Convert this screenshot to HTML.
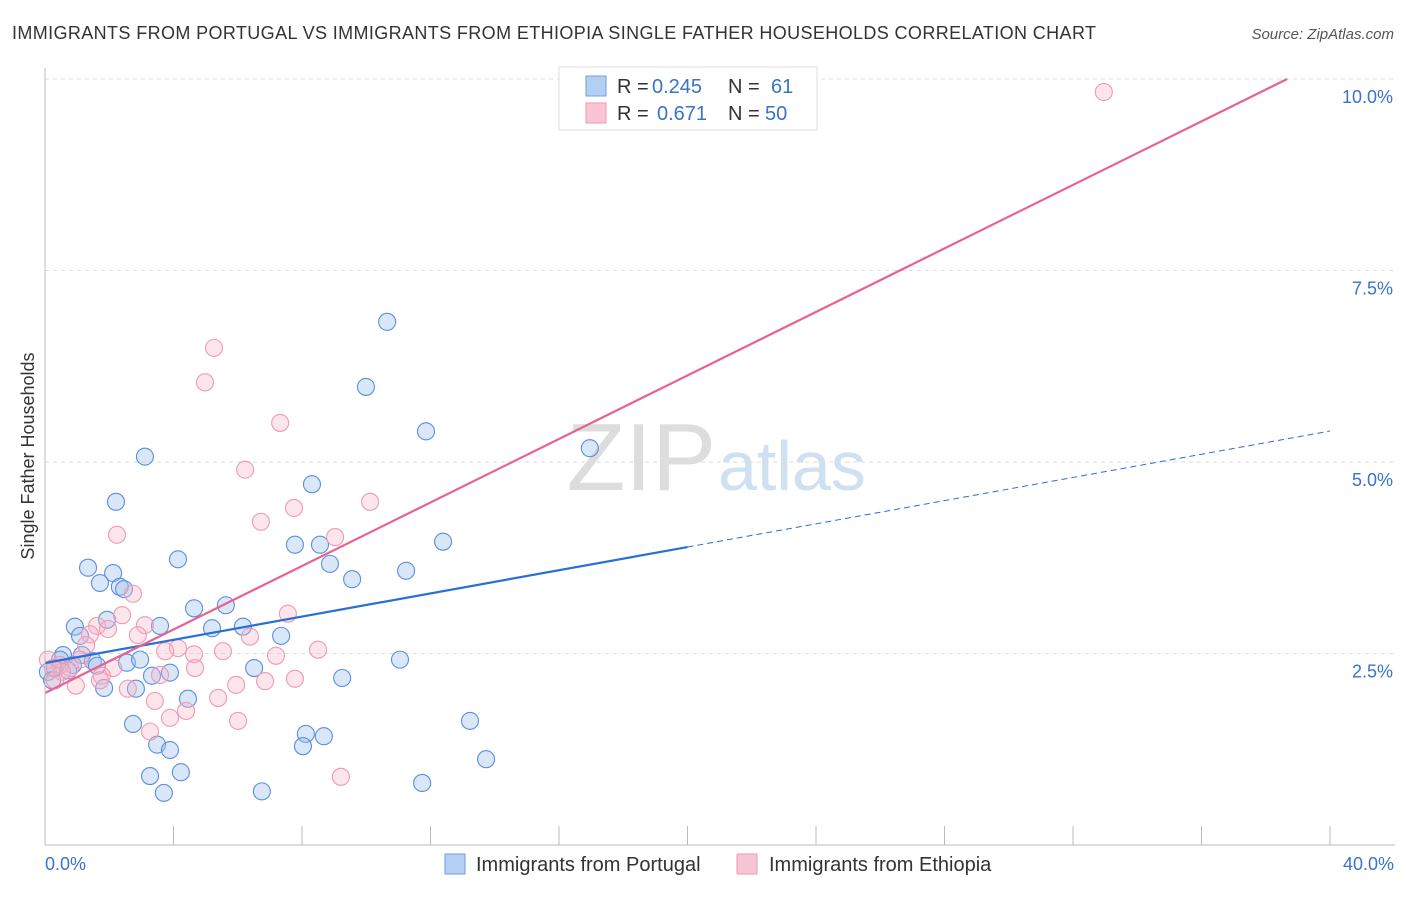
<!DOCTYPE html>
<html><head><meta charset="utf-8"><style>
body{margin:0;background:#fff;font-family:"Liberation Sans",sans-serif}
svg text{font-family:"Liberation Sans",sans-serif}
</style></head><body>
<svg id="chart" width="1406" height="892">
<text x="12" y="39" font-size="18" fill="#333" textLength="1084">IMMIGRANTS FROM PORTUGAL VS IMMIGRANTS FROM ETHIOPIA SINGLE FATHER HOUSEHOLDS CORRELATION CHART</text>
<text x="1394" y="39" font-size="15" fill="#555" font-style="italic" text-anchor="end">Source: ZipAtlas.com</text>
<text x="716" y="490" font-size="96" fill="#ddd" text-anchor="end" font-family="Liberation Serif">ZIP</text>
<text x="718" y="490" font-size="70" fill="#cfe0f3">atlas</text>
<text x="34" y="456" font-size="18" fill="#333" text-anchor="middle" transform="rotate(-90 34 456)">Single Father Households</text>
<g id="grid"></g><g id="pts"></g><g id="lines"></g>
<line x1="45" y1="68" x2="45" y2="845" stroke="#bbb"/>
<line x1="45" y1="845" x2="1395" y2="845" stroke="#bbb"/>
<text x="45" y="870" font-size="18" fill="#3a73c9">0.0%</text>
<text x="1394" y="870" font-size="18" fill="#3a73c9" text-anchor="end">40.0%</text>
<g>
<rect x="559" y="67" width="258" height="63" fill="#fff" stroke="#ddd"/>
<rect x="586" y="76" width="20" height="20" fill="#b5cff3" stroke="#6d9ee0"/>
<rect x="586" y="103" width="20" height="20" fill="#f9c4d3" stroke="#ec9ab4"/>
<text x="617" y="93" font-size="20" fill="#333">R = <tspan x="652" fill="#3a73c9">0.245</tspan><tspan x="728">N = </tspan><tspan x="771" fill="#3a73c9">61</tspan></text>
<text x="617" y="120" font-size="20" fill="#333">R = <tspan x="657" fill="#3a73c9">0.671</tspan><tspan x="728">N = </tspan><tspan x="765" fill="#3a73c9">50</tspan></text>
</g>
<g>
<rect x="445" y="854" width="20" height="20" fill="#b5cff3" stroke="#6d9ee0"/>
<text x="476" y="871" font-size="20" fill="#333">Immigrants from Portugal</text>
<rect x="737" y="854" width="20" height="20" fill="#f9c4d3" stroke="#ec9ab4"/>
<text x="769" y="871" font-size="20" fill="#333">Immigrants from Ethiopia</text>
</g>
</svg>
<script>
const yTicks=[2.5,5.0,7.5,10.0];
const xTickVals=[4,8,12,16,20,24,28,32,36,40];
const bluePx=[[387,322],[366,387],[426,431],[590,448],[145,457],[312,484],[116,502],[295,545],[320,545],[443,542],[178,559],[88,568],[330,564],[113,573],[100,583],[120,587],[124,589],[352,579],[406,571],[194,608],[226,605],[107,620],[75,627],[160,626],[212,628],[243,627],[281,636],[80,636],[63,655],[82,655],[93,661],[97,666],[127,663],[140,660],[400,660],[254,668],[152,676],[170,673],[73,665],[55,668],[48,672],[52,680],[104,688],[136,689],[188,699],[342,678],[133,724],[470,721],[157,745],[170,750],[306,734],[324,736],[303,746],[486,759],[150,776],[181,772],[262,791],[164,793],[422,783],[60,660],[68,670]];
const pinkPx=[[1104,92],[214,348],[205,382],[280,423],[245,470],[370,502],[294,508],[261,522],[117,535],[335,537],[133,594],[122,615],[288,614],[97,626],[145,625],[108,629],[90,634],[138,635],[250,637],[86,645],[178,648],[165,651],[194,654],[223,651],[318,650],[276,656],[48,660],[60,665],[70,668],[113,668],[195,668],[160,675],[102,676],[265,681],[295,679],[55,680],[76,686],[128,689],[218,698],[155,701],[186,711],[170,718],[238,721],[150,732],[341,777],[80,660],[100,680],[62,672],[53,668],[236,685]];
const blueX=bluePx.map(p=>+((p[0]-45)/32.125).toFixed(2));
const blueY=bluePx.map(p=>+((845-p[1])/76.6).toFixed(2));
const pinkX=pinkPx.map(p=>+((p[0]-45)/32.125).toFixed(2));
const pinkY=pinkPx.map(p=>+((845-p[1])/76.6).toFixed(2));
const blueFit=[2.376,0.0757];
const pinkFit=[1.984,0.2073];
const X=v=>45+v*32.125, Y=v=>845-v*76.6;
const NS="http://www.w3.org/2000/svg";
function mk(t,a,parent){const e=document.createElementNS(NS,t);for(const k in a)e.setAttribute(k,a[k]);document.getElementById(parent).appendChild(e);return e;}
yTicks.forEach(t=>{
 const l=mk('line',{x1:45,x2:1395,y1:Y(t),y2:Y(t),stroke:'#ddd','stroke-dasharray':'4 4'},'grid');
 
 
 const tx=mk('text',{x:1393,y:Y(t)+24,'font-size':18,fill:'#3a73c9','text-anchor':'end'},'grid');
 tx.textContent=t.toFixed(1)+'%';
 
 
});
xTickVals.forEach(t=>{
 const l=mk('line',{x1:X(t),x2:X(t),y1:826,y2:845,stroke:'#bbb'},'grid');
 
 
});
blueX.forEach((x,i)=>{
 const c=mk('circle',{cx:X(x),cy:Y(blueY[i]),r:8.5,fill:'rgba(160,195,240,0.4)',stroke:'#5b8fdc','stroke-width':1.1},'pts');
 
 
});
pinkX.forEach((x,i)=>{
 const c=mk('circle',{cx:X(x),cy:Y(pinkY[i]),r:8.5,fill:'rgba(248,180,200,0.35)',stroke:'#ee9ab4','stroke-width':1.1},'pts');
 
 
});
let l=mk('line',{x1:X(0),y1:Y(blueFit[0]),x2:X(20),y2:Y(blueFit[0]+20*blueFit[1]),stroke:'#2a6fd6','stroke-width':2.2},'lines');


l=mk('line',{x1:X(20),y1:Y(blueFit[0]+20*blueFit[1]),x2:X(40),y2:Y(blueFit[0]+40*blueFit[1]),stroke:'#2a6fd6','stroke-width':1,'stroke-dasharray':'6 4'},'lines');


const xe=(10-pinkFit[0])/pinkFit[1];
l=mk('line',{x1:X(0),y1:Y(pinkFit[0]),x2:X(xe),y2:Y(10),stroke:'#e8628e','stroke-width':2.2},'lines');


</script>
</body></html>
